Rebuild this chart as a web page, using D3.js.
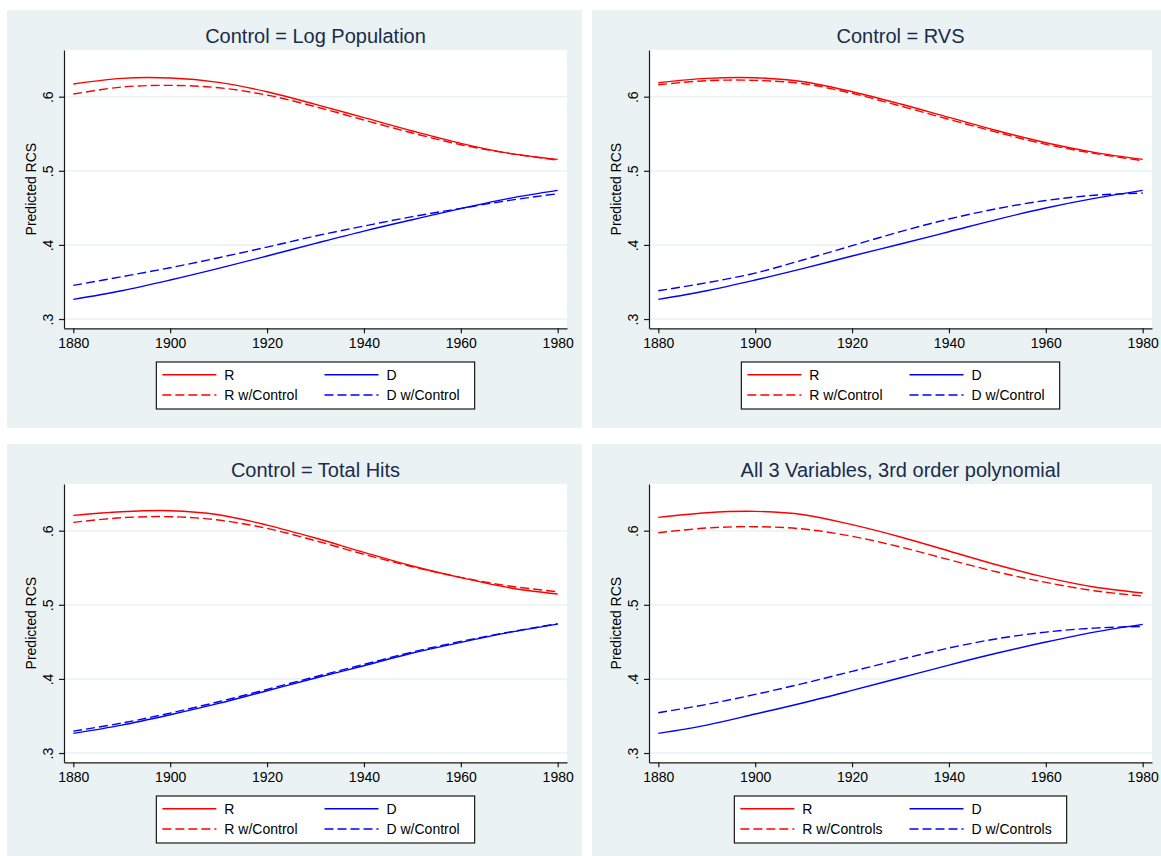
<!DOCTYPE html>
<html>
<head>
<meta charset="utf-8">
<script src="https://cdn.jsdelivr.net/npm/d3@7"></script>
<style>
  html, body { margin: 0; padding: 0; background: #ffffff; }
  svg { display: block; }
  text { font-family: "Liberation Sans", Arial, Helvetica, sans-serif; }
</style>
</head>
<body>
<svg id="chart" width="1161" height="856"></svg>
<script>
// Years at which the predicted curves are evaluated
const years = [1880, 1890, 1900, 1910, 1920, 1930, 1940, 1950, 1960, 1970, 1980];

// Control = Log Population
const logPopR  = [0.6171, 0.6247, 0.6252, 0.6193, 0.6067, 0.5897, 0.5717, 0.5537, 0.5370, 0.5235, 0.5154];
const logPopRc = [0.6036, 0.6130, 0.6153, 0.6121, 0.6022, 0.5865, 0.5685, 0.5510, 0.5352, 0.5235, 0.5145];
const logPopD  = [0.3265, 0.3382, 0.3526, 0.3683, 0.3850, 0.4021, 0.4187, 0.4340, 0.4489, 0.4628, 0.4736];
const logPopDc = [0.3454, 0.3571, 0.3692, 0.3827, 0.3971, 0.4120, 0.4255, 0.4381, 0.4493, 0.4601, 0.4691];

// Control = RVS
const rvsR  = [0.6189, 0.6247, 0.6256, 0.6202, 0.6067, 0.5901, 0.5721, 0.5541, 0.5379, 0.5249, 0.5154];
const rvsRc = [0.6162, 0.6216, 0.6220, 0.6175, 0.6045, 0.5874, 0.5694, 0.5519, 0.5357, 0.5235, 0.5136];
const rvsD  = [0.3265, 0.3382, 0.3526, 0.3683, 0.3850, 0.4012, 0.4178, 0.4345, 0.4498, 0.4628, 0.4736];
const rvsDc = [0.3382, 0.3490, 0.3620, 0.3800, 0.3990, 0.4180, 0.4350, 0.4490, 0.4600, 0.4670, 0.4700];

// Control = Total Hits
const hitsR  = [0.6207, 0.6256, 0.6270, 0.6216, 0.6076, 0.5901, 0.5708, 0.5523, 0.5366, 0.5231, 0.5145];
const hitsRc = [0.6112, 0.6175, 0.6189, 0.6144, 0.6031, 0.5865, 0.5681, 0.5514, 0.5370, 0.5253, 0.5177];
const hitsD  = [0.3265, 0.3377, 0.3517, 0.3670, 0.3841, 0.4012, 0.4178, 0.4349, 0.4493, 0.4628, 0.4740];
const hitsDc = [0.3296, 0.3404, 0.3539, 0.3692, 0.3859, 0.4030, 0.4196, 0.4363, 0.4506, 0.4632, 0.4745];

// All 3 variables, 3rd order polynomial
const allR  = [0.6180, 0.6243, 0.6261, 0.6216, 0.6081, 0.5915, 0.5726, 0.5537, 0.5370, 0.5240, 0.5159];
const allRc = [0.5973, 0.6036, 0.6054, 0.6022, 0.5924, 0.5780, 0.5609, 0.5442, 0.5303, 0.5190, 0.5118];
const allD  = [0.3265, 0.3377, 0.3526, 0.3679, 0.3845, 0.4016, 0.4187, 0.4349, 0.4498, 0.4632, 0.4736];
const allDc = [0.3544, 0.3656, 0.3791, 0.3940, 0.4102, 0.4264, 0.4417, 0.4543, 0.4632, 0.4686, 0.4709];

// Panel titles and legend labels
const titles = [
  "Control = Log Population",
  "Control = RVS",
  "Control = Total Hits",
  "All 3 Variables, 3rd order polynomial"
];
const legendLabels = [
  ["R", "D", "R w/Control", "D w/Control"],
  ["R", "D", "R w/Control", "D w/Control"],
  ["R", "D", "R w/Control", "D w/Control"],
  ["R", "D", "R w/Controls", "D w/Controls"]
];

// Axis ticks
const xTicks = [1880, 1900, 1920, 1940, 1960, 1980];
const yTicks = [0.3, 0.4, 0.5, 0.6];
const yTickLabels = [".3", ".4", ".5", ".6"];
const yTitle = "Predicted RCS";

// Axis extents (a little beyond the data range)
const xDomain = [1878.08, 1981.92];
const yDomain = [0.2875, 0.663];

const panelSeries = [
  [logPopR, logPopD, logPopRc, logPopDc],
  [rvsR, rvsD, rvsRc, rvsDc],
  [hitsR, hitsD, hitsRc, hitsDc],
  [allR, allD, allRc, allDc]
];

// Styling
const BG = "#eaf2f3";
const RED = "#ff0000";
const BLUE = "#0000ff";
const seriesStyle = [
  { color: RED,  dash: null },
  { color: BLUE, dash: null },
  { color: RED,  dash: "9,4" },
  { color: BLUE, dash: "9,4" }
];

// Panel layout
const panelW = 575, panelH = 418;
const origins = [[7, 10], [592, 10], [7, 444], [592, 444]];
const plot = { left: 57, top: 40, width: 503, height: 278.3 };

const svg = d3.select("#chart");
svg.append("rect").attr("width", 1161).attr("height", 856).attr("fill", "#ffffff");

panelSeries.forEach((series, i) => {
  const [ox, oy] = origins[i];
  const g = svg.append("g").attr("transform", `translate(${ox},${oy})`);

  g.append("rect")
    .attr("width", panelW).attr("height", panelH)
    .attr("fill", BG);

  const x = d3.scaleLinear().domain(xDomain).range([plot.left, plot.left + plot.width]);
  const y = d3.scaleLinear().domain(yDomain).range([plot.top + plot.height, plot.top]);

  // Plot region
  g.append("rect")
    .attr("x", plot.left).attr("y", plot.top)
    .attr("width", plot.width).attr("height", plot.height)
    .attr("fill", "#ffffff");

  // Horizontal grid lines
  g.append("g").selectAll("line").data(yTicks).join("line")
    .attr("x1", plot.left).attr("x2", plot.left + plot.width)
    .attr("y1", d => y(d)).attr("y2", d => y(d))
    .attr("stroke", BG).attr("stroke-width", 1.5);

  // Title
  g.append("text")
    .attr("x", plot.left + plot.width / 2)
    .attr("y", 33)
    .attr("text-anchor", "middle")
    .attr("font-size", 20)
    .attr("fill", "#1c2b4b")
    .text(titles[i]);

  // Curves
  const line = d3.line()
    .x((d, k) => x(years[k]))
    .y(d => y(d))
    .curve(d3.curveCatmullRom.alpha(0.5));

  const curves = g.append("g");
  series.forEach((vals, s) => {
    curves.append("path")
      .datum(vals)
      .attr("d", line)
      .attr("fill", "none")
      .attr("stroke", seriesStyle[s].color)
      .attr("stroke-width", 1.4)
      .attr("stroke-dasharray", seriesStyle[s].dash);
  });

  // X axis
  const xAxis = g.append("g")
    .attr("transform", `translate(0,${plot.top + plot.height})`)
    .call(d3.axisBottom(x).tickValues(xTicks).tickFormat(d3.format("d"))
      .tickSize(5).tickSizeOuter(0).tickPadding(5));
  xAxis.selectAll("text").attr("font-size", 14).attr("fill", "#000").style("font-family", "Liberation Sans, Arial, sans-serif");

  // Y axis
  const yAxis = g.append("g")
    .attr("transform", `translate(${plot.left},0)`)
    .call(d3.axisLeft(y).tickValues(yTicks).tickFormat((d, k) => yTickLabels[k])
      .tickSize(5).tickSizeOuter(0));
  yAxis.selectAll("text")
    .attr("transform", "rotate(-90)")
    .attr("x", 0).attr("y", -11).attr("dy", 0)
    .attr("text-anchor", "middle")
    .attr("font-size", 14).attr("fill", "#000")
    .style("font-family", "Liberation Sans, Arial, sans-serif");

  [xAxis, yAxis].forEach(ax => {
    ax.select(".domain").attr("stroke", "#1a1a1a").attr("stroke-width", 1.2);
    ax.selectAll(".tick line").attr("stroke", "#1a1a1a").attr("stroke-width", 1.2);
  });

  // Y axis title
  g.append("text")
    .attr("transform", `translate(29,${plot.top + plot.height / 2}) rotate(-90)`)
    .attr("text-anchor", "middle")
    .attr("font-size", 14)
    .attr("fill", "#000")
    .text(yTitle);

  // Legend
  const labels = legendLabels[i];
  const leg = g.append("g");
  const sample = 54, textGap = 8, colGap = 27, padL = 6, padR = 15;
  const rowY = [12.7, 33];
  const measure = leg.append("g").attr("visibility", "hidden");
  const widths = labels.map(t => {
    const n = measure.append("text").attr("font-size", 14).text(t);
    return n.node().getComputedTextLength();
  });
  measure.remove();
  const col1W = Math.max(widths[0], widths[2]);
  const col2W = Math.max(widths[1], widths[3]);
  const col2X = padL + sample + textGap + col1W + colGap;
  const boxW = col2X + sample + textGap + col2W + padR;
  const boxH = 47;
  const boxX = plot.left + plot.width / 2 - boxW / 2;
  const boxY = 352;
  leg.attr("transform", `translate(${boxX},${boxY})`);
  leg.append("rect")
    .attr("x", 0).attr("y", 0).attr("width", boxW).attr("height", boxH)
    .attr("fill", "#ffffff").attr("stroke", "#1a1a1a").attr("stroke-width", 1.2);

  labels.forEach((t, k) => {
    const col = k % 2, row = Math.floor(k / 2);
    const lx = col === 0 ? padL : col2X;
    const ly = rowY[row];
    leg.append("line")
      .attr("x1", lx).attr("x2", lx + sample)
      .attr("y1", ly).attr("y2", ly)
      .attr("stroke", seriesStyle[k].color)
      .attr("stroke-width", 1.4)
      .attr("stroke-dasharray", seriesStyle[k].dash);
    leg.append("text")
      .attr("x", lx + sample + textGap)
      .attr("y", ly + 5)
      .attr("text-anchor", "start")
      .attr("font-size", 14)
      .attr("fill", "#000")
      .text(t);
  });
});
</script>
</body>
</html>
